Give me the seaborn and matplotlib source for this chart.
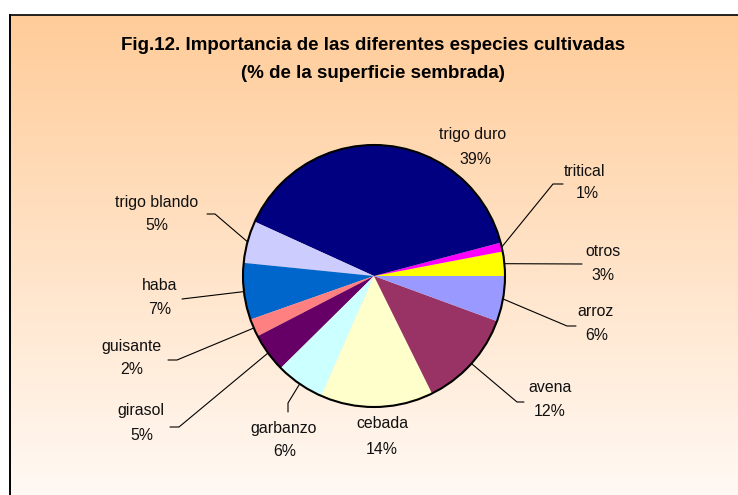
import numpy as np
import matplotlib
matplotlib.use("Agg")
import matplotlib.pyplot as plt
import seaborn as sns
from matplotlib.colors import to_rgb
from matplotlib.patches import Circle

# ---------------- data ----------------
categories = ["otros", "tritical", "trigo duro", "trigo blando", "haba",
              "guisante", "girasol", "garbanzo", "cebada", "avena", "arroz"]
shares = [3.0, 1.1, 39.1, 5.2, 7.0, 2.2, 4.8, 6.0, 13.9, 12.1, 5.6]
slice_colors = ["#FFFF00", "#FF00FF", "#000080", "#CCCCFF", "#0066CC",
                "#FF8080", "#660066", "#CCFFFF", "#FFFFCC", "#993366", "#9999FF"]
title_lines = ["Fig.12. Importancia de las diferentes especies cultivadas",
               "(% de la superficie sembrada)"]

# ---------------- layout (pixels, y downward) ----------------
W, H = 738, 495
CX, CY, R = 374, 276, 131
# name position, percent position, leader-line points after the wedge anchor
label_layout = {
    "trigo duro":   ((473, 135), (475, 160), []),
    "tritical":     ((585, 171), (587, 194), [(553, 184), (563, 184)]),
    "otros":        ((603, 251), (603, 275), [(582, 264)]),
    "arroz":        ((596, 311), (597, 335), [(567, 326), (576, 326)]),
    "avena":        ((550, 388), (550, 412), [(517, 402), (524, 402)]),
    "cebada":       ((382, 424), (382, 449), []),
    "garbanzo":     ((284, 428), (285, 452), [(288, 403), (288, 412)]),
    "girasol":      ((141, 411), (142, 435), [(179, 427), (170, 427)]),
    "guisante":     ((131, 347), (132, 370), [(177, 360), (168, 360)]),
    "haba":         ((160, 286), (160, 309), [(182, 299)]),
    "trigo blando": ((157, 202), (157, 225), [(215, 214), (207, 214)]),
}

sns.set_style("white")
plt.rcParams["font.family"] = ["Liberation Sans", "DejaVu Sans"]

fig = plt.figure(figsize=(W / 100, H / 100), dpi=100)
fig.patch.set_facecolor("white")

# background gradient
bg = fig.add_axes([0, 0, 1, 1], zorder=0)
bg.axis("off")
top = np.array(to_rgb("#FFCC99"))
bot = np.array(to_rgb("#FFF9F4"))
t = np.linspace(0, 1, 256)[:, None]
grad = (top[None, :] * (1 - t) + bot[None, :] * t)[:, None, :]
bg.imshow(grad, extent=[10, W + 2, H + 2, 15], aspect="auto", interpolation="bilinear")
bg.set_xlim(0, W)
bg.set_ylim(H, 0)

# pie
pax = fig.add_axes([(CX - R) / W, (H - CY - R) / H, 2 * R / W, 2 * R / H], zorder=1)
palette = sns.color_palette(slice_colors)
wedges, _ = pax.pie(shares, colors=palette, startangle=0, counterclock=True,
                    radius=1, wedgeprops=dict(linewidth=0, antialiased=True))
pax.add_patch(Circle((0, 0), 1, fill=False, ec="black", lw=1.5, zorder=5))
pax.set_xlim(-1.02, 1.02)
pax.set_ylim(-1.02, 1.02)
pax.axis("off")
pax.set_position([(CX - R * 1.02) / W, (H - CY - R * 1.02) / H, 2.04 * R / W, 2.04 * R / H])

# overlay: title, labels, leader lines, border
ov = fig.add_axes([0, 0, 1, 1], zorder=2)
ov.set_xlim(0, W)
ov.set_ylim(H, 0)
ov.axis("off")
ov.patch.set_alpha(0)

ov.plot([10, 10], [15, H + 5], color="black", lw=1.4, clip_on=False, solid_capstyle="projecting")
ov.plot([10, W + 5], [15, 15], color="black", lw=1.2, clip_on=False, solid_capstyle="projecting")

ov.text(373, 46, title_lines[0], ha="center", va="center", fontsize=13.5, fontweight="bold", color="black")
ov.text(373, 74, title_lines[1], ha="center", va="center", fontsize=13.5, fontweight="bold", color="black")

total = sum(shares)
for cat, val, w in zip(categories, shares, wedges):
    (nx, ny), (px, py), pts = label_layout[cat]
    ov.text(nx, ny, cat, ha="center", va="center", fontsize=11.4, color="#111111")
    ov.text(px, py, f"{val / total * 100:.0f}%", ha="center", va="center", fontsize=11.4, color="#111111")
    if pts:
        mid = np.deg2rad((w.theta1 + w.theta2) / 2)
        ax0 = CX + R * np.cos(mid)
        ay0 = CY - R * np.sin(mid)
        xs = [ax0] + [p[0] for p in pts]
        ys = [ay0] + [p[1] for p in pts]
        ov.plot(xs, ys, color="black", lw=0.8)

fig.savefig("out.png", dpi=100)
